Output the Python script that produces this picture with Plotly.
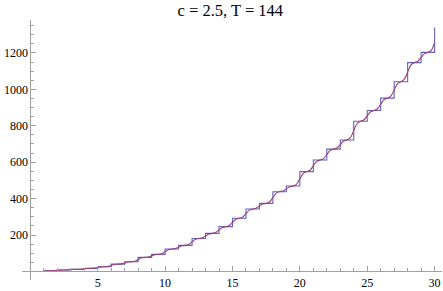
import plotly.graph_objects as go

# Step function values (value on [n, n+1)), last is the value at x=30
step_x = list(range(1, 31))
step_y = [4, 8, 12, 17, 26, 40, 53, 77, 94, 123, 143, 181, 209, 246, 292,
          343, 374, 438, 469, 548, 612, 672, 722, 825, 884, 952, 1042, 1147, 1203, 1340]

# Smooth (Fourier-like) approximation, read at quarter steps from x=1 to x=30
curve_x = [1 + 0.25 * i for i in range(117)]
curve_y = [
    2, 3.5, 4, 4.5,
    6, 7.5, 8, 8.5,
    10, 11.5, 12, 12.6,
    14.5, 16.4, 17, 18.1,
    21.5, 24.9, 26, 27.7,
    33, 38.3, 40, 41.6,
    46.5, 51.4, 53, 55.9,
    65, 74.1, 77, 79,
    85.5, 92, 94, 97.5,
    108.5, 119.5, 123, 125.4,
    133, 140.6, 143, 147.6,
    162, 176.4, 181, 184.4,
    195, 205.6, 209, 213.4,
    227.5, 241.6, 246, 251.5,
    269, 286.5, 292, 298.1,
    317.5, 336.9, 343, 346.7,
    358.5, 370.3, 374, 381.7,
    406, 430.3, 438, 441.7,
    453.5, 465.3, 469, 478.5,
    508.5, 538.5, 548, 555.7,
    580, 604.3, 612, 619.2,
    642, 664.8, 672, 678,
    697, 716, 722, 734.4,
    773.5, 812.6, 825, 832.1,
    854.5, 876.9, 884, 892.2,
    918, 943.8, 952, 962.8,
    997, 1031.2, 1042, 1054.6,
    1094.5, 1134.4, 1147, 1153.7,
    1175, 1196.3, 1203, 1214,
    1258,
]

title_text = "c = 2.5, T = 144"
x_ticks = [5, 10, 15, 20, 25, 30]
y_ticks = [200, 400, 600, 800, 1000, 1200]

x_range = [-0.62, 30.55]
y_range = [-47, 1381]

fig = go.Figure()
fig.add_trace(go.Scatter(x=step_x, y=step_y, mode="lines", line_shape="hv",
                         line=dict(color="#6262c0", width=1.1), hoverinfo="skip"))
fig.add_trace(go.Scatter(x=curve_x, y=curve_y, mode="lines", line_shape="spline",
                         line=dict(color="#993d74", width=1.1), hoverinfo="skip"))

axis_col = "#a0a0a0"
fig.update_layout(
    width=443, height=291,
    margin=dict(l=22, r=1, t=20, b=11, autoexpand=False),
    paper_bgcolor="white", plot_bgcolor="white",
    showlegend=False,
    title=dict(text=title_text, x=0.52, xanchor="center", y=0.985, yanchor="top",
               font=dict(family="Liberation Serif, Times New Roman, serif", size=16.5, color="black")),
    font=dict(family="Liberation Serif, Times New Roman, serif", size=12, color="black"),
    xaxis=dict(range=x_range, showgrid=False, zeroline=False, showline=True, automargin=False,
               linecolor=axis_col, linewidth=1, anchor="free",
               position=(0 - y_range[0]) / (y_range[1] - y_range[0]),
               tickvals=x_ticks, ticks="inside", ticklen=5, tickcolor=axis_col,
               minor=dict(dtick=1, tick0=0, ticks="inside", ticklen=3, tickcolor=axis_col),
               tickfont=dict(size=12, color="black")),
    yaxis=dict(range=y_range, showgrid=False, zeroline=False, showline=True, automargin=False,
               linecolor=axis_col, linewidth=1, anchor="free",
               position=(0 - x_range[0]) / (x_range[1] - x_range[0]),
               tickvals=y_ticks, ticks="inside", ticklen=5, tickcolor=axis_col,
               minor=dict(dtick=50, tick0=0, ticks="inside", ticklen=3, tickcolor=axis_col),
               tickfont=dict(size=12, color="black")),
)

fig.write_html("out.html", config={"displayModeBar": False},
               post_script="document.body.style.margin='0';")
